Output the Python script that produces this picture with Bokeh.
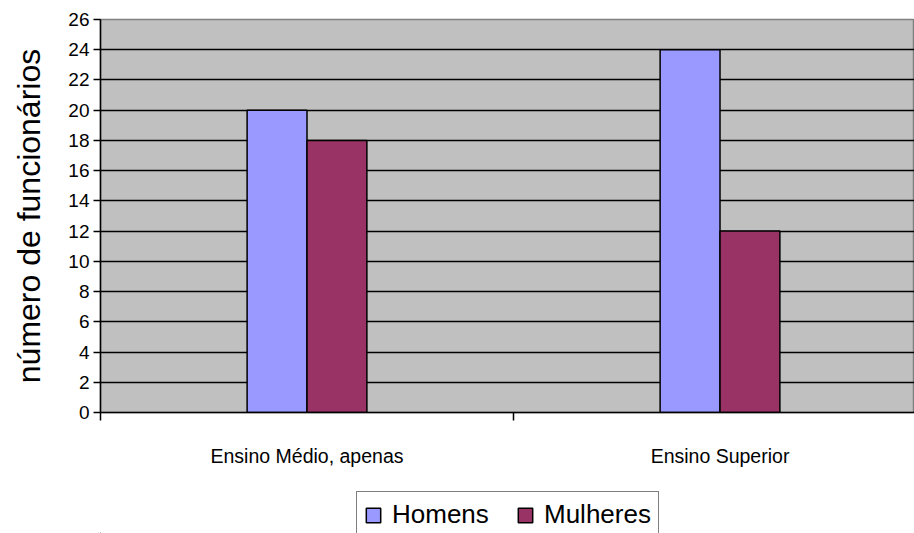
from bokeh.plotting import figure
from bokeh.models import (Range1d, FixedTicker, Legend, ColumnDataSource)
from bokeh.layouts import column
from bokeh.transform import dodge
from bokeh.embed import file_html
from bokeh.resources import INLINE

categories = ["Ensino Médio, apenas", "Ensino Superior"]
homens = [20, 24]
mulheres = [18, 12]
y_ticks = list(range(0, 27, 2))
series_names = ["Homens", "Mulheres"]
series_colors = ["#9999FF", "#993366"]

FONT = "Liberation Sans"

xpos = [i + 0.5 for i in range(len(categories))]
src = ColumnDataSource(dict(x=xpos, homens=homens, mulheres=mulheres, cat=categories))

p = figure(width=914, height=486, output_backend="svg", toolbar_location=None,
           x_range=Range1d(0, 814 / 413), y_range=Range1d(0, 26),
           min_border_left=100, min_border_right=0, min_border_top=19,
           min_border_bottom=74)

p.background_fill_color = "#C0C0C0"
p.border_fill_color = "white"
p.outline_line_color = "#808080"
p.outline_line_width = 1.5

bw = 0.145
bar_style = dict(line_color="black", line_width=1.5)
r1 = p.vbar(x=dodge("x", -bw / 2, range=p.x_range), top="homens", width=bw, bottom=0,
            source=src, fill_color=series_colors[0], **bar_style)
r2 = p.vbar(x=dodge("x", bw / 2, range=p.x_range), top="mulheres", width=bw, bottom=0,
            source=src, fill_color=series_colors[1], **bar_style)

# grid
p.xgrid.visible = False
p.ygrid.ticker = FixedTicker(ticks=y_ticks[1:-1])
p.ygrid.grid_line_color = "black"
p.ygrid.grid_line_width = 1.5

# y axis
ya = p.yaxis[0]
ya.ticker = FixedTicker(ticks=y_ticks)
ya.axis_line_color = "black"
ya.axis_line_width = 1.5
ya.major_tick_line_color = "black"
ya.major_tick_line_width = 1.5
ya.major_tick_out = 7
ya.major_tick_in = 0
ya.minor_tick_line_color = None
ya.major_label_standoff = 4
ya.major_label_text_font = FONT
ya.major_label_text_font_size = "19px"
ya.major_label_text_color = "black"
ya.axis_label = "número de funcionários"
ya.axis_label_text_font = FONT
ya.axis_label_text_font_size = "32px"
ya.axis_label_text_font_style = "normal"
ya.axis_label_text_color = "black"
ya.axis_label_standoff = 18

# x axis
xa = p.xaxis[0]
xa.ticker = FixedTicker(ticks=xpos, minor_ticks=[0, 1, 2])
xa.major_label_overrides = {x: c for x, c in zip(xpos, categories)}
xa.axis_line_color = "black"
xa.axis_line_width = 1.5
xa.major_tick_line_color = None
xa.major_tick_out = 0
xa.major_tick_in = 0
xa.minor_tick_line_color = "black"
xa.minor_tick_line_width = 1.5
xa.minor_tick_out = 8
xa.minor_tick_in = 0
xa.major_label_standoff = 24
xa.major_label_text_font = FONT
xa.major_label_text_font_size = "19.5px"
xa.major_label_text_color = "black"

# legend strip below the chart (its bars lie outside its own visible range)
p2 = figure(width=914, height=47, output_backend="svg", toolbar_location=None,
            x_range=Range1d(10, 11), y_range=Range1d(50, 51),
            min_border_left=100, min_border_right=0, min_border_top=0,
            min_border_bottom=0)
p2.axis.visible = False
p2.grid.visible = False
p2.outline_line_color = None
p2.background_fill_color = "white"
p2.border_fill_color = "white"
l1 = p2.vbar(x="x", top="homens", width=bw, source=src,
             fill_color=series_colors[0], **bar_style)
l2 = p2.vbar(x="x", top="mulheres", width=bw, source=src,
             fill_color=series_colors[1], **bar_style)

legend = Legend(items=[(series_names[0], [l1]), (series_names[1], [l2])],
                orientation="horizontal", location=(256, -5),
                border_line_color="black", border_line_width=1.5,
                background_fill_color="white", background_fill_alpha=1.0,
                label_text_font=FONT, label_text_font_size="26px",
                label_text_color="black", label_width=104,
                glyph_width=18, glyph_height=18, padding=7, spacing=20,
                label_standoff=10, margin=0)
p2.add_layout(legend)

open("out.html", "w").write(file_html(column(p, p2, spacing=0), INLINE))
